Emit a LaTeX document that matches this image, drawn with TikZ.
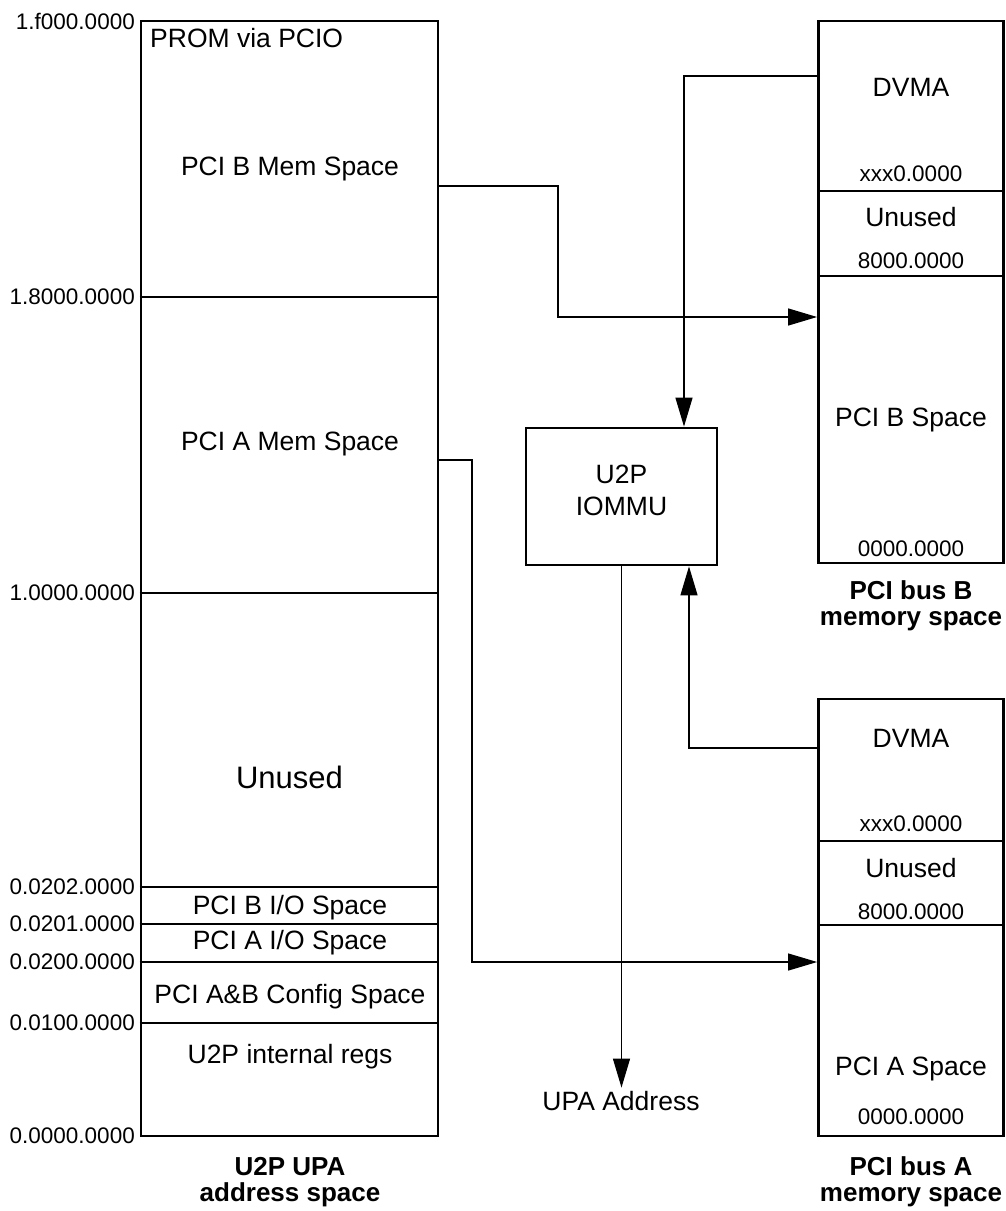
\documentclass[tikz,border=0pt]{standalone}
\usepackage{fontspec}
\setmainfont{Liberation Sans}
\usetikzlibrary{arrows.meta}

\begin{document}
\begin{tikzpicture}[x=1bp,y=-1bp,
  space/.style={rectangle,draw,line width=2.8bp,inner sep=0pt},
  lab/.style={inner sep=0pt,anchor=base,font=\fontsize{26.5bp}{32bp}\selectfont},
  addr/.style={inner sep=0pt,font=\fontsize{22.5bp}{26bp}\selectfont},
  title/.style={inner sep=0pt,anchor=north,align=center,font=\bfseries\fontsize{26bp}{26bp}\selectfont},
  split/.style={line width=1.2bp},
  link/.style={line width=1.3bp},
  ptr/.style={link,-{Triangle[length=29bp,width=17bp]}}]
\useasboundingbox (0,0) rectangle (1006,1211);

% the three address spaces and the iommu
\node[space,minimum width=297bp,minimum height=1115bp] (upa) at (289.5,578.5) {};
\node[space,minimum width=185bp,minimum height=542bp] (pcib) at (911,292) {};
\node[space,minimum width=185bp,minimum height=437bp] (pcia) at (911,917.5) {};
\node[space,minimum width=191bp,minimum height=137bp] (iommu) at (621.5,496.5) {};

% U2P UPA address space
\foreach \y in {297,887,924,962,1023}
  \draw[split] (upa.west |- 0,\y) -- (upa.east |- 0,\y);
\draw[line width=2bp] (upa.west |- 0,593) -- (upa.east |- 0,593);
\foreach \y/\t in {21/1.f000.0000,297/1.8000.0000,593/1.0000.0000,887/0.0202.0000,
    924/0.0201.0000,962/0.0200.0000,1023/0.0100.0000,1136/0.0000.0000}
  \node[addr,anchor=east] (a\y) at (135,\y) {\t};
\node[lab,anchor=base west] (prom) at (150,47) {PROM via PCIO};
\node[lab] (bmem) at (290,175) {PCI B Mem Space};
\node[lab] (amem) at (290,450) {PCI A Mem Space};
\node[lab,font=\fontsize{31bp}{36bp}\selectfont] (unused) at (289.5,788) {Unused};
\node[lab] (bio) at (290,914) {PCI B I/O Space};
\node[lab] (aio) at (290,949) {PCI A I/O Space};
\node[lab] (cfg) at (290,1003) {PCI A\&B Config Space};
\node[lab] (regs) at (290,1063) {U2P internal regs};
\node[title] (upacap) at (290,1157) {U2P UPA\\address space};

% PCI bus B
\draw[split] (pcib.west |- 0,191) -- (pcib.east |- 0,191);
\draw[split] (pcib.west |- 0,276) -- (pcib.east |- 0,276);
\node[lab] (bdvma) at (911,96.5) {DVMA};
\node[addr] (btop) at (911,174) {xxx0.0000};
\node[lab] (bunused) at (911,226.5) {Unused};
\node[addr] (bhalf) at (911,261) {8000.0000};
\node[lab] (bspace) at (911,426.5) {PCI B Space};
\node[addr] (bzero) at (911,549) {0000.0000};
\node[title] (pcibcap) at (911,580) {PCI bus B\\memory space};

% PCI bus A
\draw[split] (pcia.west |- 0,841) -- (pcia.east |- 0,841);
\draw[split] (pcia.west |- 0,925) -- (pcia.east |- 0,925);
\node[lab] (advma) at (911,747.5) {DVMA};
\node[addr] (atop) at (911,824) {xxx0.0000};
\node[lab] (aunused) at (911,877.5) {Unused};
\node[addr] (ahalf) at (911,912) {8000.0000};
\node[lab] (aspace) at (911,1075.5) {PCI A Space};
\node[addr] (azero) at (911,1117) {0000.0000};
\node[title] (pciacap) at (911,1156.5) {PCI bus A\\memory space};

\node[lab,anchor=north,align=center,font=\fontsize{26.5bp}{32bp}\selectfont] (iommutxt) at (621.5,465) {U2P\\IOMMU};
\node[lab] (upaaddr) at (621,1110) {UPA Address};

% connections
\draw[ptr] (upa.east |- 0,186) -| (558,317) -- (pcib.west |- 0,317);
\draw[ptr] (upa.east |- 0,460) -| (472,962) -- (pcia.west |- 0,962);
\draw[ptr] (pcib.west |- 0,76) -| (684,0 |- iommu.north);
\draw[ptr] (pcia.west |- 0,748) -| (689,0 |- iommu.south);
\draw[ptr,shorten >=3bp] (iommu.south) -- (iommu.south |- upaaddr.north);
\end{tikzpicture}
\end{document}
